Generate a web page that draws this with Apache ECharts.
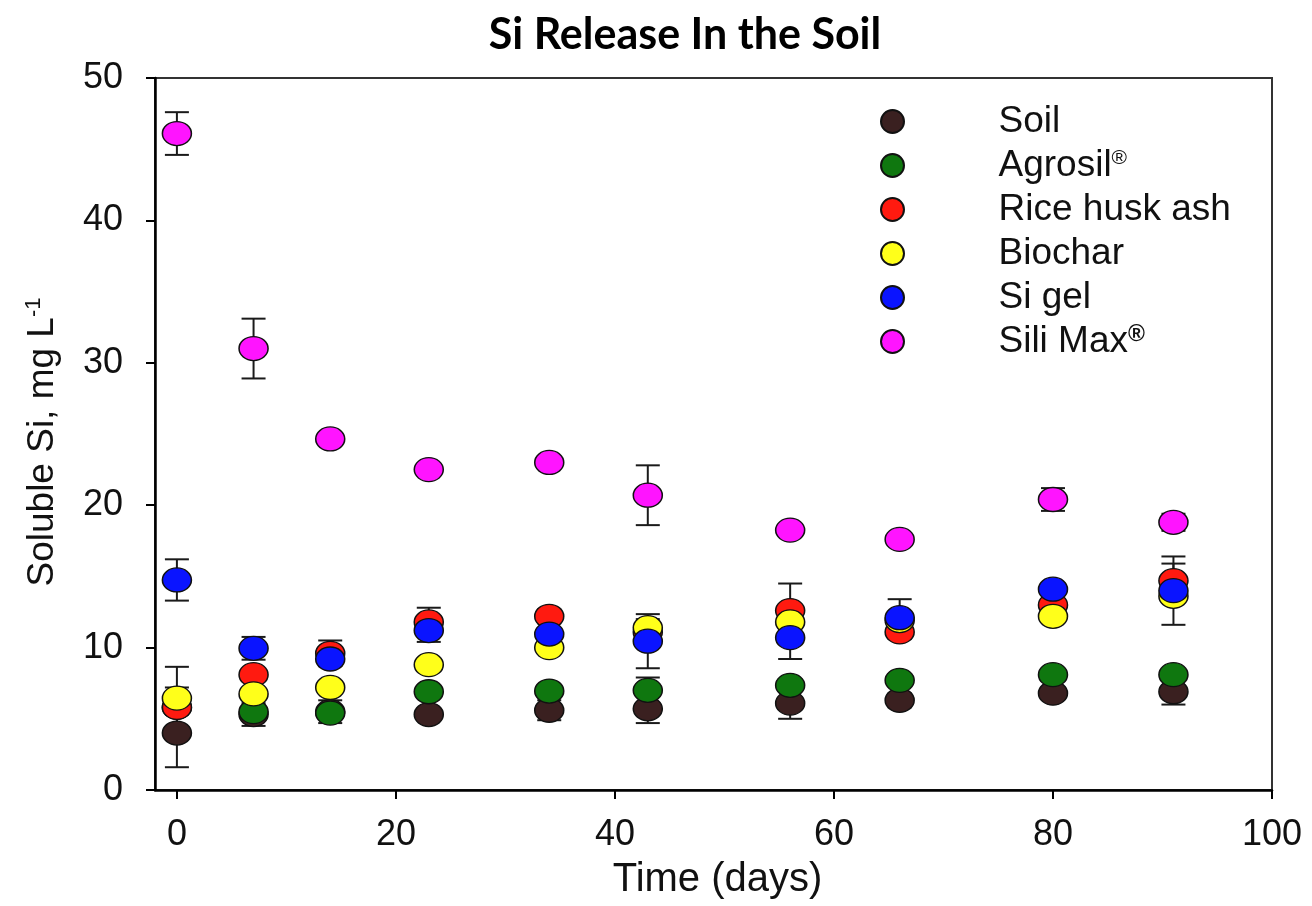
<!DOCTYPE html>
<html>
<head>
<meta charset="utf-8">
<script src="https://cdn.jsdelivr.net/npm/echarts@6/dist/echarts.min.js"></script>
<style>
  html, body { margin: 0; padding: 0; background: #ffffff; }
  #chart { width: 1312px; height: 906px; }
</style>
</head>
<body>
<div id="chart"></div>
<script>
// Sampling days
const days = [0, 7, 14, 23, 34, 43, 56, 66, 80, 91];

// Soluble Si (mg/L) per treatment, with standard errors
const soil       = [4.0, 5.3, 5.5, 5.3, 5.6, 5.7, 6.1, 6.3, 6.8, 6.9];
const soilErr    = [2.4, 0.8, 0.8, 0.3, 0.7, 1.0, 1.1, 0.5, 0.4, 0.9];
const agrosil    = [5.8, 5.5, 5.4, 6.9, 6.95, 7.0, 7.35, 7.7, 8.1, 8.1];
const agrosilErr = [0.5, 0.4, 0.3, 0.3, 0.3, 0.9, 0.3, 0.3, 0.3, 0.3];
const rice       = [5.8, 8.1, 9.6, 11.8, 12.2, 11.1, 12.6, 11.1, 13.0, 14.7];
const riceErr    = [1.4, 0.4, 0.9, 1.0, 0.5, 0.6, 1.9, 0.5, 0.3, 1.2];
const biochar    = [6.45, 6.75, 7.2, 8.8, 10.0, 11.4, 11.8, 11.9, 12.2, 13.6];
const biocharErr = [2.2, 0.3, 0.3, 0.3, 0.3, 0.6, 0.5, 0.3, 0.3, 0.4];
const sigel      = [14.75, 9.95, 9.2, 11.2, 10.95, 10.45, 10.7, 12.1, 14.1, 14.0];
const sigelErr   = [1.45, 0.8, 0.5, 0.8, 0.3, 1.9, 1.5, 1.3, 0.3, 2.4];
const silimax    = [46.1, 31.0, 24.65, 22.5, 23.0, 20.7, 18.25, 17.6, 20.4, 18.8];
const silimaxErr = [1.5, 2.1, 0.3, 0.3, 0.2, 2.1, 0.2, 0.2, 0.8, 0.6];

const xTicks = [0, 20, 40, 60, 80, 100];

const treatments = [
  { name: 'Soil',          values: soil,    errors: soilErr,    color: '#3a2020' },
  { name: 'Agrosil',       values: agrosil, errors: agrosilErr, color: '#0f770f' },
  { name: 'Rice husk ash', values: rice,    errors: riceErr,    color: '#ff1a10' },
  { name: 'Biochar',       values: biochar, errors: biocharErr, color: '#ffff1a' },
  { name: 'Si gel',        values: sigel,   errors: sigelErr,   color: '#0a14ff' },
  { name: 'Sili Max',      values: silimax, errors: silimaxErr, color: '#ff14ff' }
];

const FONT = '"Liberation Sans", Arial, sans-serif';

// Vertical error bar with caps at mean ± error
function errorBar(params, api) {
  const x = api.value(0), y = api.value(1), e = api.value(2);
  if (!e) return null;
  const hi = api.coord([x, y + e]);
  const lo = api.coord([x, y - e]);
  const w = 12;
  const st = { stroke: '#1a1a1a', lineWidth: 2 };
  return {
    type: 'group',
    children: [
      { type: 'line', shape: { x1: hi[0], y1: hi[1], x2: lo[0], y2: lo[1] }, style: st },
      { type: 'line', shape: { x1: hi[0] - w, y1: hi[1], x2: hi[0] + w, y2: hi[1] }, style: st },
      { type: 'line', shape: { x1: lo[0] - w, y1: lo[1], x2: lo[0] + w, y2: lo[1] }, style: st }
    ]
  };
}

const series = [];
treatments.forEach(t => {
  series.push({
    type: 'custom',
    name: t.name + ' error',
    renderItem: errorBar,
    data: days.map((d, i) => [d, t.values[i], t.errors[i]]),
    encode: { x: 0, y: 1 },
    silent: true
  });
  series.push({
    type: 'scatter',
    name: t.name,
    data: days.map((d, i) => [d, t.values[i]]),
    symbol: 'circle',
    symbolSize: [29, 24],
    itemStyle: { color: t.color, borderColor: '#111', borderWidth: 1.4, opacity: 1 }
  });
});

const legendLabels = {
  'Agrosil': 'Agrosil{sup|®}',
  'Sili Max': 'Sili Max{sup2|®}'
};

const chart = echarts.init(document.getElementById('chart'), null, { renderer: 'canvas' });
chart.setOption({
  backgroundColor: '#ffffff',
  animation: false,
  title: {
    text: 'Si Release In the Soil',
    left: 680,
    top: 9,
    textAlign: 'center',
    textStyle: { fontFamily: 'Lato, "Open Sans", sans-serif', fontWeight: 'bold', fontSize: 43, color: '#000' }
  },
  grid: { left: 155, right: 40, top: 78, bottom: 116, show: true, borderColor: '#333', borderWidth: 2 },
  legend: {
    orient: 'vertical',
    left: 875,
    top: 98,
    itemWidth: 30,
    itemHeight: 23,
    itemGap: 7,
    icon: 'circle',
    data: treatments.map(t => t.name),
    formatter: name => legendLabels[name] || name,
    textStyle: {
      fontFamily: FONT,
      fontSize: 37,
      lineHeight: 36,
      color: '#111',
      padding: [0, 0, 0, 86],
      rich: {
        sup: { fontSize: 21, lineHeight: 36, verticalAlign: 'top', fontFamily: FONT, color: '#111' },
        sup2: { fontSize: 23, lineHeight: 36, verticalAlign: 'top', fontFamily: FONT, color: '#111', fontWeight: 'bold' }
      }
    }
  },
  xAxis: {
    type: 'value',
    min: -2,
    max: 100,
    name: 'Time (days)',
    nameLocation: 'middle',
    nameGap: 70,
    nameTextStyle: { fontFamily: FONT, fontSize: 40, color: '#111', padding: [0, 0, 0, 8] },
    axisLine: { onZero: false, lineStyle: { color: '#000', width: 2.5 } },
    axisTick: { show: true, length: 9, customValues: xTicks, lineStyle: { color: '#000', width: 2 } },
    axisLabel: { customValues: xTicks, margin: 27, fontFamily: FONT, fontSize: 36, color: '#111' },
    splitLine: { show: false }
  },
  yAxis: {
    type: 'value',
    min: 0,
    max: 50,
    interval: 10,
    name: '{a|Soluble Si, mg L}{s|-1}',
    nameLocation: 'middle',
    nameRotate: 90,
    nameGap: 92,
    nameTextStyle: {
      fontFamily: FONT, fontSize: 37, color: '#111',
      padding: [0, 16, 0, 0],
      rich: {
        a: { fontFamily: FONT, fontSize: 37, color: '#111' },
        s: { fontFamily: FONT, fontSize: 22, color: '#111', verticalAlign: 'top', padding: [0, 0, 18, 0] }
      }
    },
    axisLine: { show: true, onZero: false, lineStyle: { color: '#000', width: 2.5 } },
    axisTick: { show: true, length: 9, lineStyle: { color: '#000', width: 2 } },
    axisLabel: { margin: 32, fontFamily: FONT, fontSize: 36, color: '#111' },
    splitLine: { show: false }
  },
  series: series
});
</script>
</body>
</html>
